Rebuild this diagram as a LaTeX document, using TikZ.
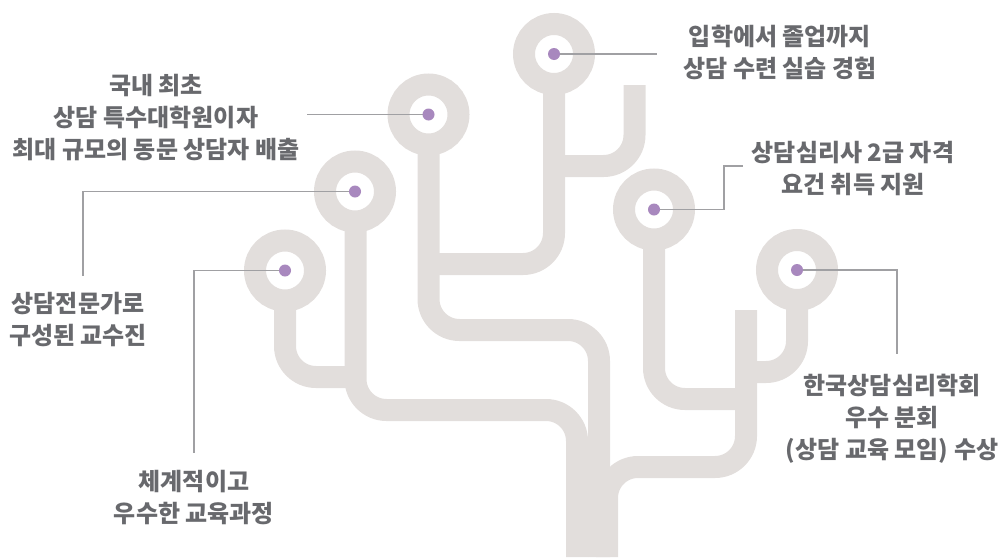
\documentclass[tikz,border=0pt]{standalone}
\usepackage{fontspec}
\setmainfont{Noto Sans CJK KR}
\usetikzlibrary{positioning}
\definecolor{treegray}{RGB}{226,222,220}
\definecolor{leadgray}{RGB}{160,160,163}
\definecolor{dotpurple}{RGB}{168,136,190}
\definecolor{textgray}{RGB}{104,105,109}

\begin{document}
\begin{tikzpicture}[x=1pt, y=-1pt, font=\fontsize{24}{32}\selectfont\bfseries,
  branch/.style={draw=treegray, line width=22pt, rounded corners=31pt},
  ring/.style={circle, draw=treegray, line width=22pt, fill=white, minimum size=60pt, inner sep=0pt, outer sep=0pt},
  dot/.style={circle, fill=dotpurple, minimum size=12pt, inner sep=0pt},
  leader/.style={draw=leadgray, line width=1.2pt},
  note/.style={align=center, text=textgray, inner sep=0pt}
]
\useasboundingbox (0,0) rectangle (1008,557);

\draw[branch] (285,270) -- (285,377) -- (356,377);
\draw[branch] (355.5,191) -- (355.5,410) -- (577,410) -- (577,557);
\draw[branch] (428.5,114) -- (428.5,330) -- (599,330) -- (599,557);
\draw[branch] (554,54) -- (554,264) -- (428.5,264);
\draw[branch] (634.5,85) -- (634.5,166) -- (554,166);
\draw[branch] (654,209) -- (654,399) -- (746,399);
\draw[branch] (797,270) -- (797,372) -- (746,372);
\draw[branch] (746,310) -- (746,467) -- (607,467) -- (607,557);

\node[ring] (ctop) at (554,54) {};
\node[ring] (c2) at (428.5,114.5) {};
\node[ring] (c3) at (355,191.5) {};
\node[ring] (c4) at (285,270.5) {};
\node[ring] (ca) at (654,209.5) {};
\node[ring] (cb) at (797,270) {};

\coordinate (etop) at (657,54);
\coordinate (e2) at (307,114.5);
\coordinate (e3) at (83,276);
\coordinate (e4) at (194,453);
\coordinate (ea) at (743,166);
\coordinate (eb) at (897,354);

\draw[leader] (ctop.center) -- (etop);
\draw[leader] (c2.center) -- (e2);
\draw[leader] (c3.center) -| (e3);
\draw[leader] (c4.center) -| (e4);
\draw[leader] (ca.center) -- ++(70,0) |- (ea);
\draw[leader] (cb.center) -| (eb);

\foreach \c in {ctop, c2, c3, c4, ca, cb}
  \node[dot] at (\c) {};

\node[note] (ttop) at (780,52) {입학에서 졸업까지\\상담 수련 실습 경험};
\node[note] (t2) at (156,118) {국내 최초\\상담 특수대학원이자\\최대 규모의 동문 상담자 배출};
\node[note, below=16pt of e3, xshift=-5pt] (t3) {상담전문가로\\구성된 교수진};
\node[note, below=17pt of e4] (t4) {체계적이고\\우수한 교육과정};
\node[note] (ta) at (853,168) {상담심리사 2급 자격\\요건 취득 지원};
\node[note, below=20pt of eb, xshift=-5pt] (tb) {한국상담심리학회\\우수 분회\\(상담 교육 모임) 수상};

\end{tikzpicture}
\end{document}
